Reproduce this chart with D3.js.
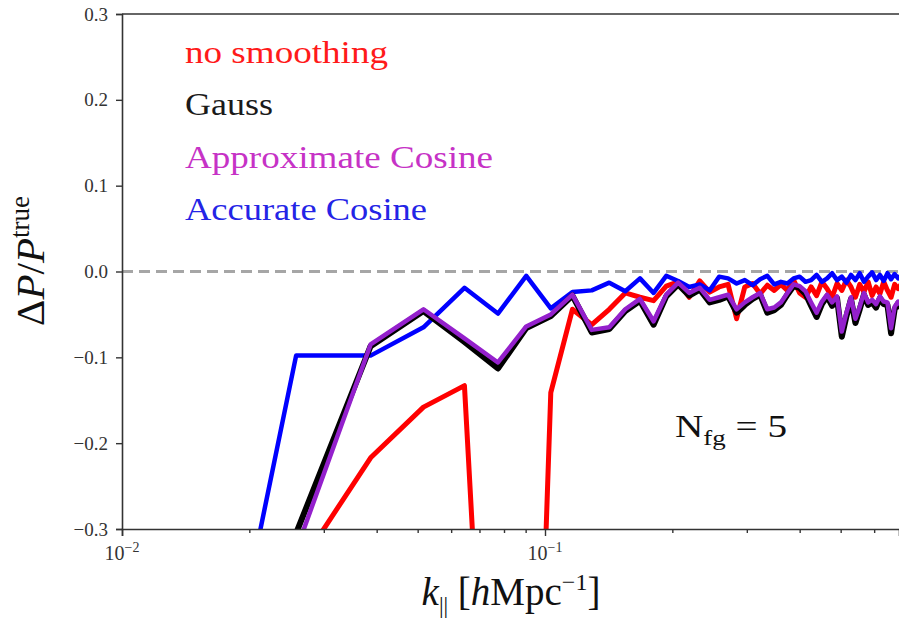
<!DOCTYPE html>
<html><head><meta charset="utf-8">
<script src="https://cdn.jsdelivr.net/npm/d3@7"></script>
<style>body{margin:0;background:#fff} svg{display:block}</style>
</head><body>
<svg id="chart" width="899" height="618"></svg>
<script>
// ---- data ----
const kValues = [0.0129,0.0258,0.0387,0.0516,0.0645,0.0774,0.0903,0.1032,0.1161,0.129,
  0.1419,0.1548,0.1677,0.1806,0.1935,0.2064,0.2193,0.2322,0.2451,0.258,
  0.2709,0.2838,0.2967,0.3096,0.3225,0.3354,0.3483,0.3612,0.3741,0.387,
  0.3999,0.4128,0.4257,0.4386,0.4515,0.4644,0.4773,0.4902,0.5031,0.516,
  0.5289,0.5418,0.5547,0.5676,0.5805,0.5934,0.6063,0.6192,0.6321,0.645,
  0.6579,0.6708,0.6837,0.6966];
const noSmoothing = [-1.0,-0.349,-0.217,-0.158,-0.133,-0.843,-0.98,-0.141,-0.044,-0.062,
  -0.044,-0.025,-0.030,-0.034,-0.017,-0.012,-0.030,-0.011,-0.024,-0.018,
  -0.015,-0.055,-0.018,-0.014,-0.026,-0.016,-0.022,-0.015,-0.022,-0.010,
  -0.025,-0.030,-0.018,-0.028,-0.012,-0.020,-0.030,-0.014,-0.022,-0.010,
  -0.018,-0.030,-0.015,-0.024,-0.012,-0.028,-0.018,-0.026,-0.012,-0.022,
  -0.030,-0.015,-0.020,-0.014];
const gauss = [-0.95,-0.305,-0.087,-0.046,-0.082,-0.113,-0.066,-0.052,-0.028,-0.071,
  -0.067,-0.046,-0.034,-0.062,-0.029,-0.015,-0.028,-0.021,-0.036,-0.033,
  -0.029,-0.048,-0.039,-0.032,-0.027,-0.048,-0.045,-0.039,-0.027,-0.017,
  -0.019,-0.026,-0.040,-0.053,-0.038,-0.029,-0.040,-0.031,-0.076,-0.052,
  -0.032,-0.060,-0.044,-0.027,-0.039,-0.036,-0.042,-0.031,-0.038,-0.039,
  -0.072,-0.044,-0.037,-0.043];
const approxCosine = [-0.95,-0.325,-0.085,-0.044,-0.078,-0.106,-0.064,-0.050,-0.027,-0.068,
  -0.065,-0.044,-0.032,-0.058,-0.027,-0.013,-0.025,-0.019,-0.033,-0.030,
  -0.027,-0.044,-0.036,-0.030,-0.025,-0.044,-0.042,-0.036,-0.025,-0.015,
  -0.017,-0.023,-0.036,-0.048,-0.035,-0.027,-0.036,-0.029,-0.070,-0.048,
  -0.030,-0.055,-0.041,-0.025,-0.036,-0.033,-0.038,-0.029,-0.035,-0.036,
  -0.066,-0.041,-0.035,-0.040];
const accurateCosine = [-0.82,-0.098,-0.098,-0.065,-0.019,-0.049,-0.005,-0.043,-0.024,-0.022,
  -0.013,-0.023,-0.008,-0.025,-0.005,-0.011,-0.018,-0.015,-0.022,-0.006,
  -0.008,-0.014,-0.010,-0.016,-0.009,-0.005,-0.015,-0.012,-0.014,-0.008,
  -0.006,-0.012,-0.010,-0.004,-0.012,-0.008,-0.002,-0.010,-0.006,-0.013,
  -0.004,-0.010,-0.002,-0.012,-0.006,-0.001,-0.010,-0.004,-0.011,-0.002,
  -0.009,-0.003,-0.008,-0.004];
const yTicks = [-0.3,-0.2,-0.1,0.0,0.1,0.2,0.3];
const xMajorTicks = [0.01, 0.1];
const xMajorLabels = [["10","−2"],["10","−1"]];
const xMinorTicks = [0.02,0.03,0.04,0.05,0.06,0.07,0.08,0.09,0.2,0.3,0.4,0.5,0.6];
const legendLabels = ["no smoothing","Gauss","Approximate Cosine","Accurate Cosine"];
const legendColors = ["#ff1a1a","#1a1a1a","#c632c6","#2424e6"];
const legendWidths = [203, 88, 308, 242];

// ---- layout ----
const svg = d3.select("#chart");
const L = 122, R = 899, T = 14, B = 529;
const serif = "'Liberation Serif','Times New Roman',serif";
const x = d3.scaleLog().domain([0.01, 0.01 * Math.pow(10, (R - L) / 423)]).range([L, R]);
const y = d3.scaleLinear().domain([-0.3, 0.3]).range([B, T]);

svg.append("defs").append("clipPath").attr("id","clip")
  .append("rect").attr("x",L).attr("y",T).attr("width",R-L).attr("height",B-T);

// zero line
svg.append("line").attr("x1",L).attr("x2",R).attr("y1",y(0)).attr("y2",y(0))
  .attr("stroke","#a6a6a6").attr("stroke-width",3).attr("stroke-dasharray","11,6");

// series
const series = [
  {vals: noSmoothing, color:"#ff0000", w:5},
  {vals: accurateCosine, color:"#0000ff", w:4.5},
  {vals: gauss, color:"#000000", w:6},
  {vals: approxCosine, color:"#9420cc", w:4.5}
];
const line = d3.line().x(d => x(d[0])).y(d => y(d[1]));
const g = svg.append("g").attr("clip-path","url(#clip)");
series.forEach(s => {
  g.append("path").datum(kValues.map((k,i) => [k, s.vals[i]]))
    .attr("d", line).attr("fill","none").attr("stroke", s.color)
    .attr("stroke-width", s.w).attr("stroke-linejoin","round");
});

// axes
const yAxis = svg.append("g").attr("transform",`translate(${L},0)`)
  .call(d3.axisLeft(y).tickValues(yTicks).tickFormat(d3.format(".1f")).tickSize(6).tickPadding(8));
yAxis.selectAll("text").attr("font-family",serif).attr("font-size",19).attr("fill","#333");
const xAxis = svg.append("g").attr("transform",`translate(0,${B})`)
  .call(d3.axisBottom(x).tickValues(xMajorTicks).tickFormat("").tickSize(7));
svg.append("g").attr("transform",`translate(0,${B})`)
  .call(d3.axisBottom(x).tickValues(xMinorTicks).tickFormat("").tickSize(4))
  .select(".domain").remove();
svg.selectAll(".domain").attr("stroke","#333").attr("stroke-width",1.6);
svg.selectAll(".tick line").attr("stroke","#333").attr("stroke-width",1.4);
// top spine
svg.append("line").attr("x1",L).attr("x2",R).attr("y1",T).attr("y2",T)
  .attr("stroke","#333").attr("stroke-width",1.6);

// x tick labels
xMajorTicks.forEach((t,i) => {
  const tx = svg.append("text").attr("x", x(t)).attr("y", 560).attr("text-anchor","middle")
    .attr("font-family",serif).attr("font-size",20).attr("fill","#333");
  tx.append("tspan").text(xMajorLabels[i][0]);
  tx.append("tspan").attr("dy",-8).attr("font-size",14).text(xMajorLabels[i][1]);
});

// axis labels
const yl = svg.append("text").attr("transform","translate(44,261) rotate(-90)")
  .attr("text-anchor","middle").attr("font-family",serif).attr("font-size",41).attr("fill","#111");
yl.append("tspan").text("Δ");
yl.append("tspan").attr("font-style","italic").text("P");
yl.append("tspan").text("/");
yl.append("tspan").attr("font-style","italic").text("P");
yl.append("tspan").attr("dy",-15).attr("font-size",27).text("true");

const xl = svg.append("text").attr("x",511).attr("y",605).attr("text-anchor","middle")
  .attr("font-family",serif).attr("font-size",39).attr("fill","#111");
xl.append("tspan").attr("font-style","italic").text("k");
xl.append("tspan").attr("dy",8).attr("font-size",23).text("||");
xl.append("tspan").attr("dy",-8).text(" [");
xl.append("tspan").attr("font-style","italic").text("h");
xl.append("tspan").text("Mpc");
xl.append("tspan").attr("dy",-15).attr("font-size",24).text("−1");
xl.append("tspan").attr("dy",15).text("]");

// legend text
legendLabels.forEach((lab,i) => {
  svg.append("text").attr("x",185).attr("y",63 + i*52.3)
    .attr("font-family",serif).attr("font-size",32).attr("fill",legendColors[i])
    .attr("textLength",legendWidths[i]).attr("lengthAdjust","spacingAndGlyphs")
    .text(lab);
});

// annotation
const an = svg.append("text").attr("x",675).attr("y",437)
  .attr("font-family",serif).attr("font-size",32).attr("fill","#111")
  .attr("textLength",112).attr("lengthAdjust","spacingAndGlyphs");
an.append("tspan").text("N");
an.append("tspan").attr("dy",8).attr("font-size",22).text("fg");
an.append("tspan").attr("dy",-8).text(" = 5");
</script>
</body></html>
